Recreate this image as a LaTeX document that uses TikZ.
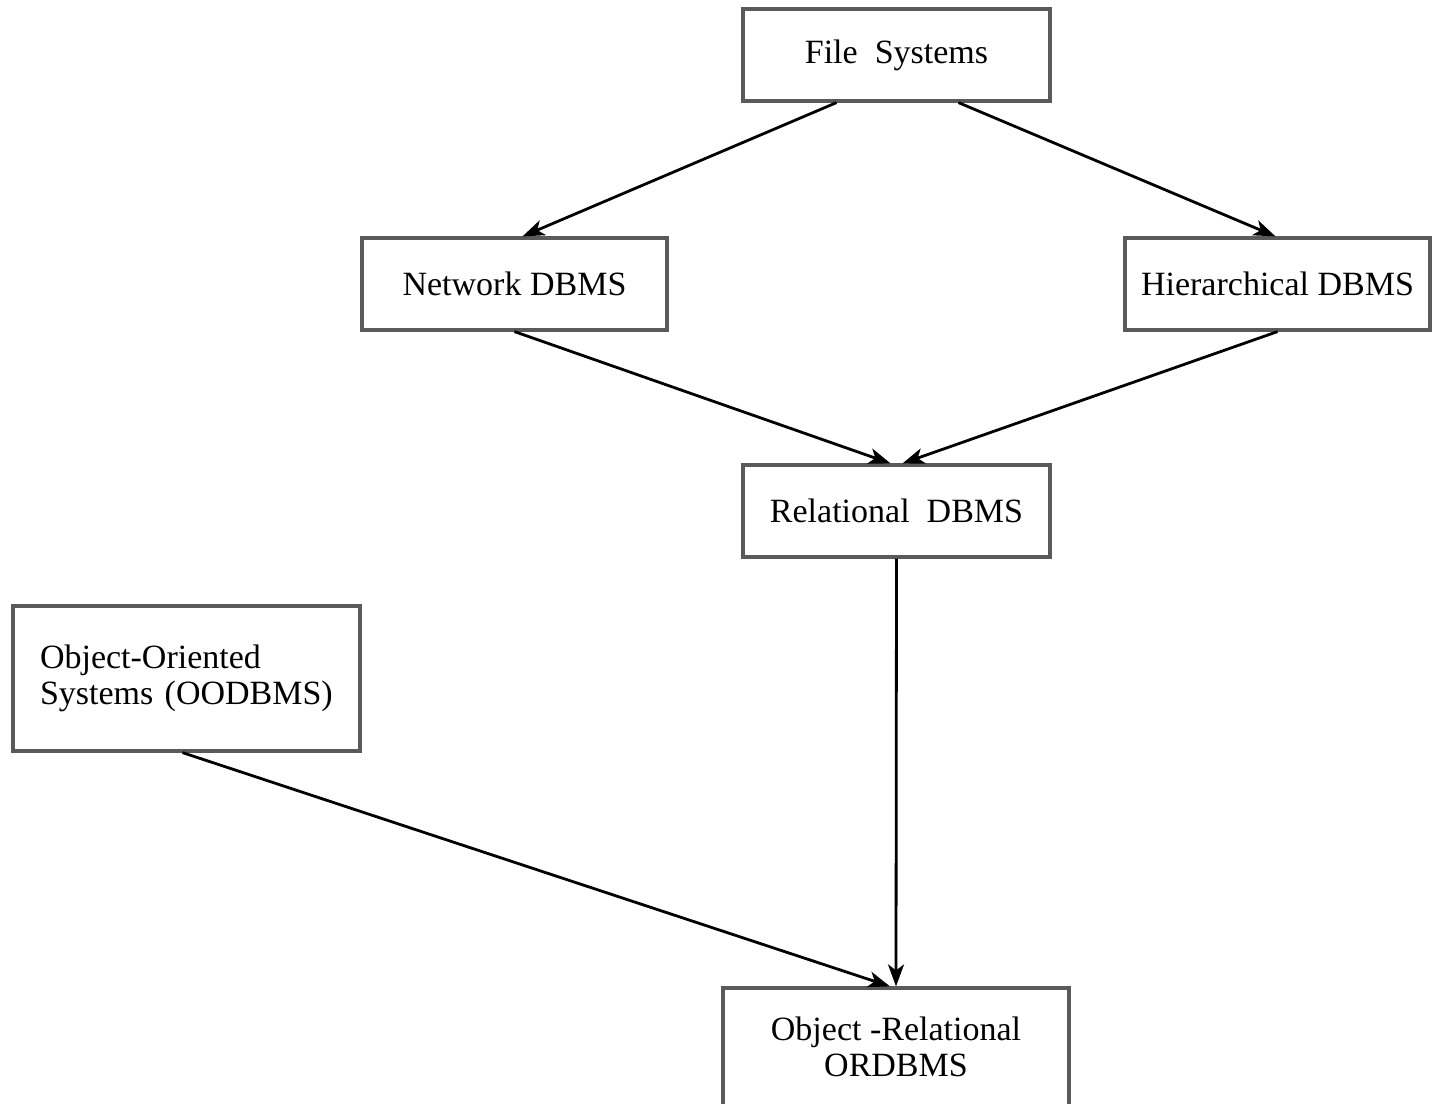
\documentclass[tikz,border=0pt]{standalone}
\usepackage{fontspec}
\setmainfont{Liberation Serif}
\usetikzlibrary{arrows.meta}
\begin{document}
\begin{tikzpicture}[x=0.5pt,y=-0.5pt,
  box/.style={draw={rgb,255:red,90;green,90;blue,90}, line width=1.6pt, fill=white,
    font=\fontsize{17pt}{18pt}\selectfont, align=center, inner sep=0pt},
  conn/.style={line width=1.4pt, -{Stealth[length=11pt,width=8pt,inset=3pt]}}]
\clip (0,0) rectangle (1437,1104);
\fill[white] (0,0) rectangle (1437,1104);
\node[box, minimum width=153.5pt, minimum height=46pt] (fs) at (896.5,55) {File\ \ Systems};
\node[box, minimum width=152.5pt, minimum height=46pt] (net) at (514.5,284) {Network DBMS};
\node[box, minimum width=152.5pt, minimum height=46pt] (hier) at (1277.5,284) {Hierarchical DBMS};
\node[box, minimum width=153.5pt, minimum height=46pt] (rel) at (896.5,511) {Relational\ \ DBMS};
\node[box, align=left, text width=146.5pt, inner xsep=13.5pt, minimum height=72.5pt] (oo) at (186.5,678.5) {Object-Oriented\\Systems (OODBMS)};
\node[box, minimum width=173pt, minimum height=59pt] (ord) at (896,1047) {Object -Relational\\ORDBMS};
\draw[conn] ([xshift=-30pt]fs.south) -- ([xshift=4pt]net.north);
\draw[conn] ([xshift=31pt]fs.south) -- ([xshift=-1pt]hier.north);
\draw[conn] (net.south) -- ([xshift=-3pt]rel.north);
\draw[conn] (hier.south) -- ([xshift=3pt]rel.north);
\draw[conn] (rel.south) -- (ord.north);
\draw[conn] ([xshift=-2pt]oo.south) -- ([xshift=-3pt]ord.north);
\end{tikzpicture}
\end{document}
